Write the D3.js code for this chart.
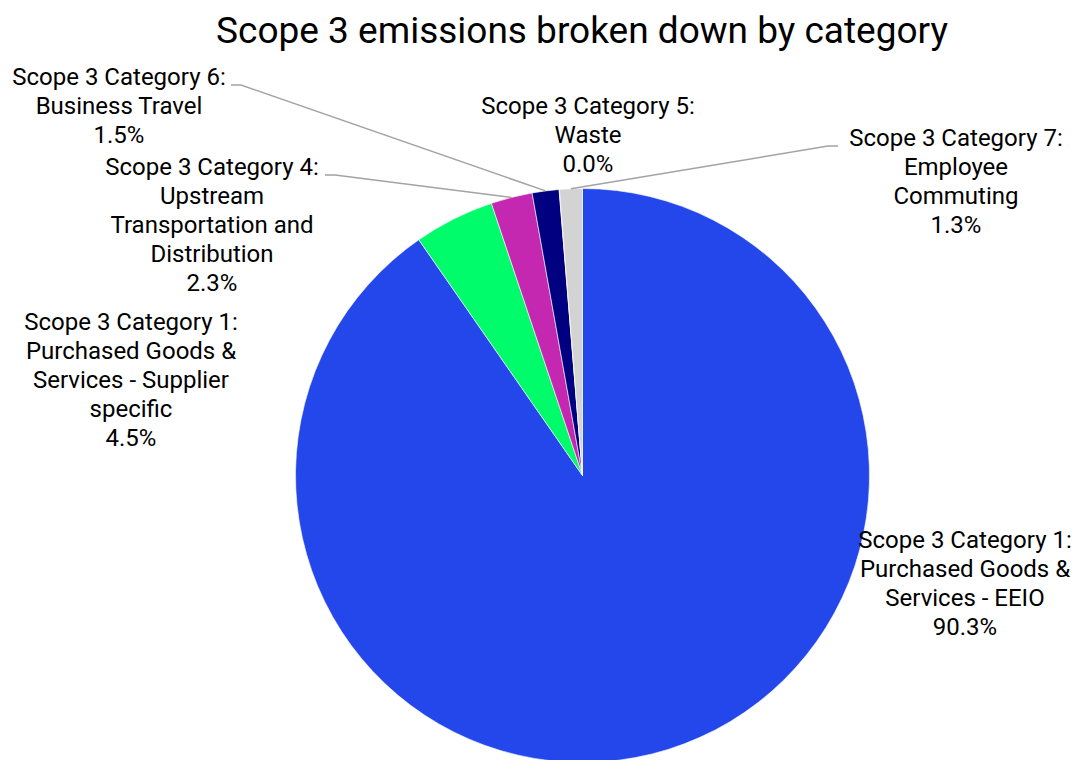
<!DOCTYPE html>
<html>
<head>
<meta charset="utf-8">
<script src="https://cdn.jsdelivr.net/npm/d3@7"></script>
<style>
  body { margin: 0; background: #fff; }
  text { font-family: Roboto, "Noto Sans", sans-serif; fill: #000; }
</style>
</head>
<body>
<script>
// data
var categories = [
  "Scope 3 Category 1: Purchased Goods & Services - EEIO",
  "Scope 3 Category 1: Purchased Goods & Services - Supplier specific",
  "Scope 3 Category 4: Upstream Transportation and Distribution",
  "Scope 3 Category 6: Business Travel",
  "Scope 3 Category 5: Waste",
  "Scope 3 Category 7: Employee Commuting"
];
var values = [90.34, 4.52, 2.33, 1.51, 0.02, 1.28];
var labelLines = [
  ["Scope 3 Category 1:", "Purchased Goods &", "Services - EEIO"],
  ["Scope 3 Category 1:", "Purchased Goods &", "Services - Supplier", "specific"],
  ["Scope 3 Category 4:", "Upstream", "Transportation and", "Distribution"],
  ["Scope 3 Category 6:", "Business Travel"],
  ["Scope 3 Category 5:", "Waste"],
  ["Scope 3 Category 7:", "Employee", "Commuting"]
];
var colors = ["#2447eb", "#00fb6b", "#c427b0", "#000080", "#ff9900", "#d3d3d3"];

var W = 1075, H = 760;
var cx = 582.5, cy = 475.5, R = 287;
var lineH = 29, fs = 24;

// label placement: center x, first line y, leader anchor (or null)
var labelPos = [
  {x: 965, y: 548, lead: null},
  {x: 131, y: 330, lead: null},
  {x: 212, y: 175, lead: {x: 325, side: 1}},
  {x: 119, y: 85,  lead: {x: 231, side: 1}},
  {x: 588, y: 114, lead: null},
  {x: 956, y: 146, lead: {x: 838, side: -1}}
];

var svg = d3.select("body").append("svg")
  .attr("width", W).attr("height", H);

svg.append("text")
  .attr("x", 582).attr("y", 43)
  .attr("text-anchor", "middle")
  .style("font-size", "37px")
  .text("Scope 3 emissions broken down by category");

var pie = d3.pie().sort(null).value(d => d);
var arcs = pie(values);
var arc = d3.arc().innerRadius(0).outerRadius(R);
var edge = d3.arc().innerRadius(R).outerRadius(R);

var g = svg.append("g").attr("transform", `translate(${cx},${cy})`);
g.selectAll("path.slice").data(arcs).enter().append("path")
  .attr("class", "slice")
  .attr("d", arc)
  .attr("fill", (d, i) => colors[i])
  .attr("stroke", "#fff")
  .attr("stroke-width", 0.6);

// leader lines
arcs.forEach(function (d, i) {
  var p = labelPos[i];
  if (!p.lead) return;
  var c = edge.centroid(d);
  var ax = p.lead.x, ay = p.y;
  var pts = [[ax - cx, ay - cy], [ax + 10 * p.lead.side - cx, ay - cy], c];
  g.append("path")
    .attr("d", d3.line()(pts))
    .attr("fill", "none")
    .attr("stroke", "#a3a3a3")
    .attr("stroke-width", 1.5);
});

// labels
var fmt = d3.format(".1%");
var total = d3.sum(values);
arcs.forEach(function (d, i) {
  var p = labelPos[i];
  var lines = labelLines[i].concat([fmt(values[i] / total)]);
  var t = svg.append("text")
    .attr("text-anchor", "middle")
    .style("font-size", fs + "px");
  lines.forEach(function (s, k) {
    t.append("tspan").attr("x", p.x).attr("y", p.y + k * lineH).text(s);
  });
});
</script>
</body>
</html>
